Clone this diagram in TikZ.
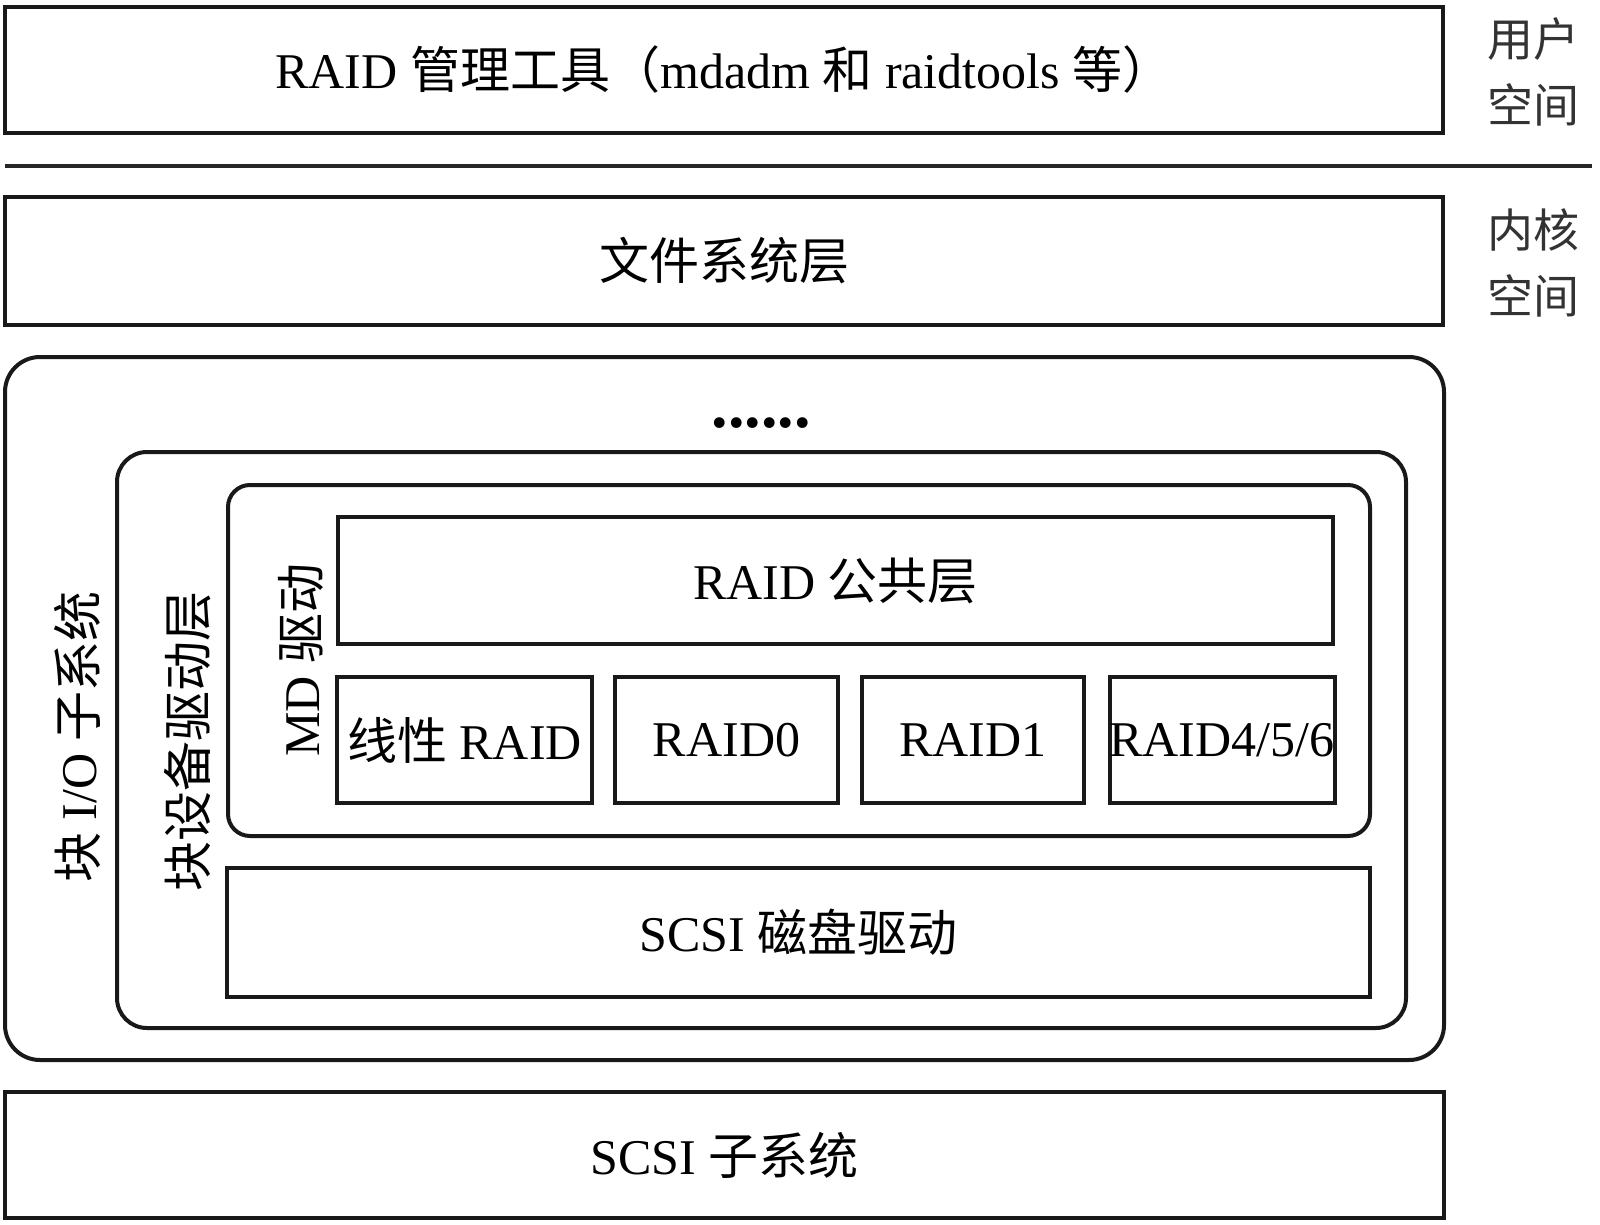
\documentclass[tikz,border=0pt]{standalone}
\usepackage{fontspec}
\setmainfont{Liberation Serif}
\newfontfamily\cjk{Noto Sans CJK SC}
\begin{document}
\begin{tikzpicture}[x=0.5pt,y=-0.5pt,
  box/.style={draw=black!90, line width=2pt, inner sep=0pt, font=\fontsize{25pt}{30pt}\selectfont},
  rbox/.style={box, rounded corners=#1},
  lbl/.style={inner sep=0pt, font=\fontsize{25pt}{30pt}\selectfont},
  side/.style={inner sep=0pt, align=center, text=black!80, font=\fontsize{23pt}{33pt}\selectfont\cjk}]
\useasboundingbox (0,0) rectangle (1600,1225);
% user space
\node[box, minimum width=719pt, minimum height=63pt] (tools) at (724,70)
  {RAID {\cjk 管理工具（}mdadm {\cjk 和} raidtools {\cjk 等）}};
\coordinate (sepL) at (5,166);
\coordinate (sepR) at (1592,166);
\draw[line width=2pt, black!85] (sepL) -- (sepR);
\node[side] (us) at (1533,72) {用户\\空间};
\node[side] (ks) at (1533,263) {内核\\空间};
% kernel
\node[box, minimum width=719pt, minimum height=64pt] (fs) at (724,261) {\cjk 文件系统层};
\node[rbox=17.5pt, minimum width=719.5pt, minimum height=351.5pt] (bio) at (724.5,708.5) {};
\node[inner sep=0pt, anchor=base, font=\fontsize{33pt}{36pt}\selectfont\bfseries] (dots) at (761,427) {......};
\node[rbox=15pt, minimum width=644.5pt, minimum height=288pt] (bdl) at (761.5,740) {};
\node[rbox=11pt, minimum width=571pt, minimum height=175.5pt] (md) at (799,660.5) {};
\node[box, minimum width=497.5pt, minimum height=63.5pt] (common) at (835.5,580.5) {RAID {\cjk 公共层}};
\node[box, minimum width=127.5pt, minimum height=63pt] (lin) at (464.5,740) {{\cjk 线性} RAID};
\node[box, minimum width=111.5pt, minimum height=63pt] (r0) at (726.5,740) {RAID0};
\node[box, minimum width=111pt, minimum height=63pt] (r1) at (973,740) {RAID1};
\node[box, minimum width=112pt, minimum height=63pt] (r456) at (1222,740) {RAID4/5/6};
\node[box, minimum width=571.5pt, minimum height=64.5pt] (scsid) at (798.5,932.5) {SCSI {\cjk 磁盘驱动}};
\node[lbl, rotate=90] (biolbl) at (77,737) {{\cjk 块} I/O {\cjk 子系统}};
\node[lbl, rotate=90] (bdllbl) at (188,741) {\cjk 块设备驱动层};
\node[lbl, rotate=90] (mdlbl) at (301,660) {MD {\cjk 驱动}};
% scsi subsystem
\node[box, minimum width=719.5pt, minimum height=63pt] (scsi) at (724.5,1155) {SCSI {\cjk 子系统}};
\end{tikzpicture}
\end{document}
